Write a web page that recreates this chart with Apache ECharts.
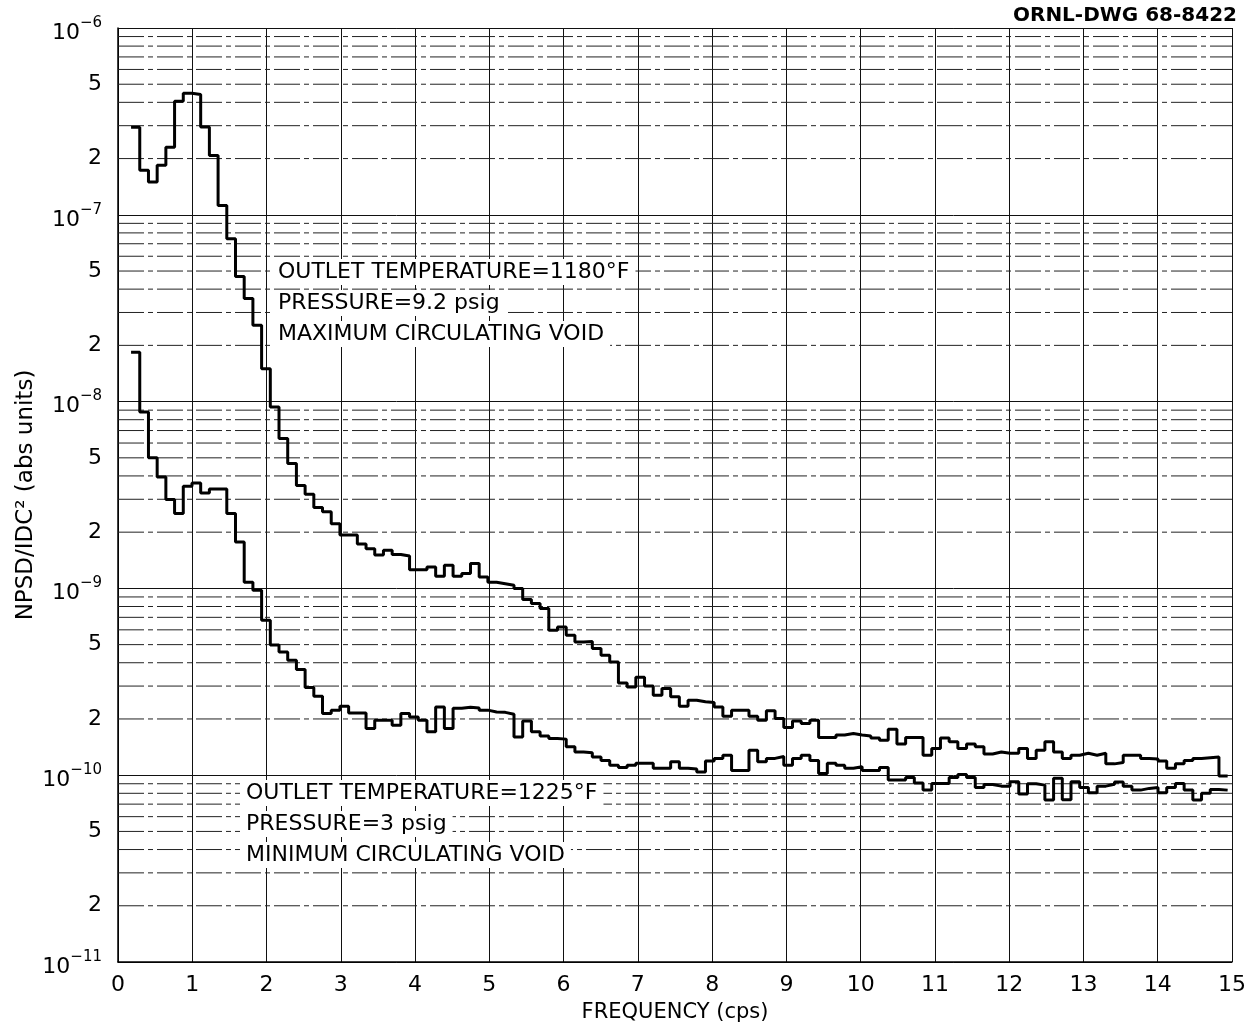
<!DOCTYPE html>
<html>
<head>
<meta charset="utf-8">
<title>NPSD vs frequency</title>
<script src="https://cdn.jsdelivr.net/npm/echarts@6/dist/echarts.min.js"></script>
<style>
  html, body { margin: 0; padding: 0; background: #fff; }
  #chart { width: 1258px; height: 1028px; }
</style>
</head>
<body>
<div id="chart"></div>
<script>
// frequency bins (cps): bin k is centred on k * binWidth, first bin is k = 2
const binWidth = 15 / 128;
const firstBin = 2;

// OUTLET TEMPERATURE 1180 F, 9.2 psig, maximum circulating void
const maxVoid = [
  2.94e-7, 1.73e-7, 1.50e-7, 1.84e-7, 2.30e-7, 4.06e-7, 4.48e-7, 4.41e-7, 2.95e-7, 2.08e-7,
  1.12e-7, 7.45e-8, 4.68e-8, 3.56e-8, 2.56e-8, 1.50e-8, 9.35e-9, 6.34e-9, 4.66e-9, 3.56e-9,
  3.19e-9, 2.71e-9, 2.57e-9, 2.22e-9, 1.93e-9, 1.93e-9, 1.73e-9, 1.63e-9, 1.51e-9, 1.60e-9,
  1.52e-9, 1.49e-9, 1.26e-9, 1.26e-9, 1.30e-9, 1.16e-9, 1.33e-9, 1.16e-9, 1.20e-9, 1.36e-9,
  1.15e-9, 1.08e-9, 1.06e-9, 1.04e-9, 1.00e-9, 8.72e-10, 8.30e-10, 7.80e-10, 5.97e-10, 6.22e-10,
  5.62e-10, 5.17e-10, 5.20e-10, 4.77e-10, 4.39e-10, 4.04e-10, 3.12e-10, 2.97e-10, 3.34e-10, 3.00e-10,
  2.68e-10, 2.91e-10, 2.63e-10, 2.34e-10, 2.52e-10, 2.47e-10, 2.45e-10, 2.32e-10, 2.07e-10, 2.23e-10,
  2.23e-10, 2.07e-10, 1.97e-10, 2.21e-10, 2.01e-10, 1.80e-10, 1.95e-10, 1.89e-10, 1.97e-10, 1.59e-10,
  1.59e-10, 1.64e-10, 1.67e-10, 1.64e-10, 1.62e-10, 1.58e-10, 1.54e-10, 1.76e-10, 1.47e-10, 1.59e-10,
  1.59e-10, 1.28e-10, 1.39e-10, 1.58e-10, 1.51e-10, 1.39e-10, 1.47e-10, 1.42e-10, 1.30e-10, 1.33e-10,
  1.31e-10, 1.31e-10, 1.39e-10, 1.23e-10, 1.36e-10, 1.51e-10, 1.33e-10, 1.23e-10, 1.28e-10, 1.31e-10,
  1.28e-10, 1.31e-10, 1.15e-10, 1.17e-10, 1.28e-10, 1.28e-10, 1.23e-10, 1.22e-10, 1.19e-10, 1.09e-10,
  1.15e-10, 1.20e-10, 1.23e-10, 1.24e-10, 1.25e-10, 9.9e-11
];

// OUTLET TEMPERATURE 1225 F, 3 psig, minimum circulating void
const minVoid = [
  1.84e-8, 8.80e-9, 5.01e-9, 3.95e-9, 2.99e-9, 2.52e-9, 3.52e-9, 3.67e-9, 3.24e-9, 3.40e-9,
  3.40e-9, 2.52e-9, 1.77e-9, 1.08e-9, 9.78e-10, 6.76e-10, 4.97e-10, 4.56e-10, 4.13e-10, 3.68e-10,
  2.95e-10, 2.65e-10, 2.14e-10, 2.23e-10, 2.34e-10, 2.15e-10, 2.15e-10, 1.78e-10, 1.97e-10, 1.97e-10,
  1.85e-10, 2.14e-10, 2.05e-10, 1.97e-10, 1.71e-10, 2.32e-10, 1.78e-10, 2.28e-10, 2.31e-10, 2.29e-10,
  2.23e-10, 2.18e-10, 2.17e-10, 2.12e-10, 1.60e-10, 1.95e-10, 1.71e-10, 1.62e-10, 1.57e-10, 1.56e-10,
  1.42e-10, 1.33e-10, 1.32e-10, 1.25e-10, 1.20e-10, 1.13e-10, 1.10e-10, 1.13e-10, 1.16e-10, 1.16e-10,
  1.09e-10, 1.09e-10, 1.18e-10, 1.09e-10, 1.08e-10, 1.04e-10, 1.19e-10, 1.23e-10, 1.28e-10, 1.06e-10,
  1.06e-10, 1.36e-10, 1.18e-10, 1.23e-10, 1.26e-10, 1.13e-10, 1.23e-10, 1.28e-10, 1.20e-10, 1.02e-10,
  1.16e-10, 1.13e-10, 1.09e-10, 1.11e-10, 1.06e-10, 1.06e-10, 1.10e-10, 9.42e-11, 9.42e-11, 9.73e-11,
  9.07e-11, 8.32e-11, 9.04e-11, 9.04e-11, 9.73e-11, 1.01e-10, 9.73e-11, 8.60e-11, 8.91e-11, 8.74e-11,
  8.74e-11, 9.22e-11, 7.93e-11, 9.00e-11, 8.85e-11, 7.36e-11, 9.62e-11, 7.40e-11, 9.22e-11, 8.60e-11,
  8.05e-11, 8.74e-11, 8.95e-11, 9.20e-11, 8.74e-11, 8.32e-11, 8.50e-11, 8.60e-11, 8.05e-11, 8.60e-11,
  9.04e-11, 8.32e-11, 7.36e-11, 8.00e-11, 8.39e-11, 8.32e-11
];

// log grid: decades and the in-between lines of the graph paper
const decadeExps = [-11, -10, -9, -8, -7];
const minorMantissas = [2, 3, 4, 5, 6, 7, 8, 9];
const labelledMantissas = [2, 5];
const freqMin = 0;
const freqMax = 15;

const fontFamily = '"DejaVu Sans", "Liberation Sans", sans-serif';

// turn the bin values into step points (left edge of every bin + end of last bin)
function toSteps(values) {
  const pts = values.map((v, i) => [(firstBin + i - 0.5) * binWidth, v]);
  const last = values.length - 1;
  pts.push([Math.min(freqMax, (firstBin + last + 0.5) * binWidth), values[last]]);
  return pts;
}

// [x start, value, mantissa] for each graph-paper line
const paperLines = [];
decadeExps.forEach(e => {
  minorMantissas.forEach(m => {
    paperLines.push([freqMin, m * Math.pow(10, e), m]);
  });
});

function renderPaperLine(params, api) {
  const v = api.value(1);
  const m = api.value(2);
  const p0 = api.coord([freqMin, v]);
  const p1 = api.coord([freqMax, v]);
  const children = [{
    type: 'line',
    shape: { x1: p0[0], y1: p0[1], x2: p1[0], y2: p1[1] },
    style: { stroke: '#222', lineWidth: 1, lineDash: [26, 4, 5, 4] }
  }];
  if (labelledMantissas.indexOf(m) >= 0) {
    children.push({
      type: 'text',
      style: {
        text: String(m), x: p0[0] - 16, y: p0[1],
        align: 'right', verticalAlign: 'middle',
        fontSize: 22, fontFamily: fontFamily, fill: '#000'
      }
    });
  }
  return { type: 'group', children: children };
}

function note(text, left, top) {
  return {
    type: 'text', left: left, top: top, z: 100,
    style: { text: text, fontSize: 22, fontFamily: fontFamily, fill: '#000',
             backgroundColor: '#fff', padding: [2, 6] }
  };
}

const chart = echarts.init(document.getElementById('chart'));

const option = {
  animation: false,
  backgroundColor: '#fff',
  textStyle: { fontFamily: fontFamily, color: '#000' },
  title: {
    text: 'ORNL-DWG 68-8422',
    right: 16,
    top: 1,
    textStyle: { fontFamily: fontFamily, fontSize: 20, fontWeight: 'bold', color: '#000' }
  },
  grid: { left: 118, right: 26, top: 28, bottom: 66 },
  xAxis: {
    type: 'value',
    min: freqMin,
    max: freqMax,
    interval: 1,
    name: 'FREQUENCY (cps)',
    nameLocation: 'middle',
    nameGap: 40,
    nameTextStyle: { fontSize: 21, color: '#000', fontFamily: fontFamily },
    axisLine: { show: true, lineStyle: { color: '#000', width: 1.5 } },
    axisTick: { show: false },
    axisLabel: { fontSize: 22, color: '#000', margin: 12, fontFamily: fontFamily },
    splitLine: { show: true, lineStyle: { color: '#111', width: 1 } }
  },
  yAxis: {
    type: 'log',
    logBase: 10,
    min: 1e-11,
    max: 1e-6,
    splitNumber: 5,
    name: 'NPSD/IDC² (abs units)',
    nameLocation: 'middle',
    nameGap: 80,
    nameMoveOverlap: false,
    nameRotate: 90,
    nameTextStyle: { fontSize: 23, color: '#000', fontFamily: fontFamily },
    axisLine: { show: true, lineStyle: { color: '#000', width: 1.5 } },
    axisTick: { show: false },
    axisLabel: {
      margin: 16,
      formatter: function (v) {
        const e = Math.round(Math.log10(v));
        return '{b|10}{s|−' + Math.abs(e) + '}';
      },
      rich: {
        b: { fontSize: 22, color: '#000', fontFamily: fontFamily, padding: [10, 0, 0, 0] },
        s: { fontSize: 15, color: '#000', fontFamily: fontFamily, padding: [0, 0, 10, 0] }
      }
    },
    splitLine: { show: true, lineStyle: { color: '#111', width: 1 } }
  },
  graphic: [
    note('OUTLET TEMPERATURE=1180°F', 272, 259),
    note('PRESSURE=9.2 psig', 272, 290),
    note('MAXIMUM CIRCULATING VOID', 272, 321),
    note('OUTLET TEMPERATURE=1225°F', 240, 780),
    note('PRESSURE=3 psig', 240, 811),
    note('MINIMUM CIRCULATING VOID', 240, 842)
  ],
  series: [
    {
      name: 'paper',
      type: 'custom',
      silent: true,
      clip: false,
      z: 1,
      renderItem: renderPaperLine,
      data: paperLines
    },
    {
      name: 'minimum circulating void',
      type: 'line',
      step: 'end',
      showSymbol: false,
      z: 3,
      lineStyle: { color: '#000', width: 3 },
      data: toSteps(minVoid)
    },
    {
      name: 'maximum circulating void',
      type: 'line',
      step: 'end',
      showSymbol: false,
      z: 3,
      lineStyle: { color: '#000', width: 3 },
      data: toSteps(maxVoid)
    }
  ]
};

chart.setOption(option);
</script>
</body>
</html>
